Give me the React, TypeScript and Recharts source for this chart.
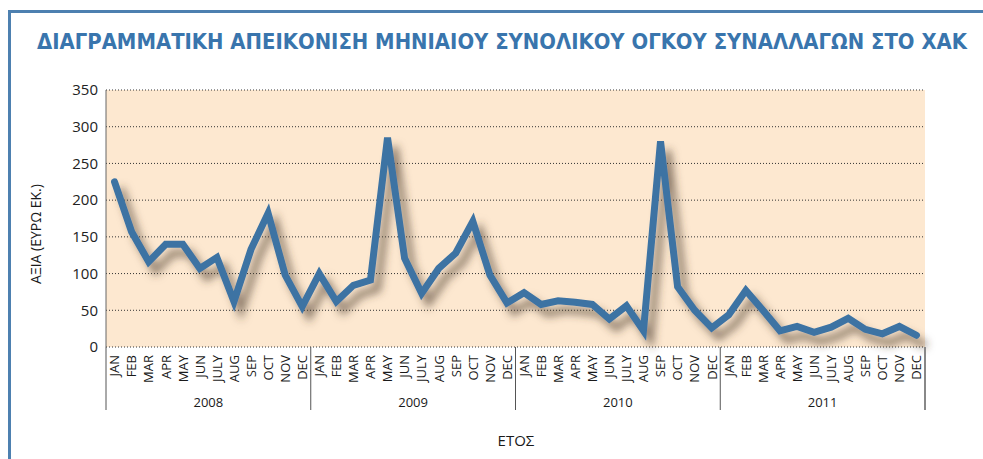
import React from 'react';
import { LineChart, Line, XAxis, YAxis, CartesianGrid } from 'recharts';

// Chart values
const months = ['JAN', 'FEB', 'MAR', 'APR', 'MAY', 'JUN', 'JULY', 'AUG', 'SEP', 'OCT', 'NOV', 'DEC'];
const years = ['2008', '2009', '2010', '2011'];
const values2008 = [225, 157, 116, 140, 140, 107, 122, 62, 133, 182, 98, 55];
const values2009 = [100, 62, 84, 91, 285, 121, 73, 107, 128, 171, 98, 60];
const values2010 = [74, 58, 63, 61, 58, 38, 56, 22, 280, 82, 50, 26];
const values2011 = [44, 77, 50, 22, 28, 20, 27, 39, 24, 18, 28, 16];
const yTicks = [0, 50, 100, 150, 200, 250, 300, 350];

const title = 'ΔΙΑΓΡΑΜΜΑΤΙΚΗ ΑΠΕΙΚΟΝΙΣΗ ΜΗΝΙΑΙΟΥ ΣΥΝΟΛΙΚΟΥ ΟΓΚΟΥ ΣΥΝΑΛΛΑΓΩΝ ΣΤΟ ΧΑΚ';
const yLabel = 'ΑΞΙΑ (ΕΥΡΩ ΕΚ.)';
const xLabel = 'ΕΤΟΣ';

const seriesByYear = [values2008, values2009, values2010, values2011];

const data = years.flatMap((year, yi) =>
  months.map((month, mi) => ({
    key: `${year}-${month}`,
    month,
    year,
    value: seriesByYear[yi][mi],
  }))
);

const FONT = '"Open Sans", "DejaVu Sans", sans-serif';
const TITLE_FONT = '"Liberation Sans Narrow", "DejaVu Sans Condensed", "Open Sans", sans-serif';

// month label + year separators / year label drawn under the axis
const MonthTick = (props: any) => {
  const { x, y, payload, index } = props;
  const half = payload && payload.offset ? payload.offset : 8.53;
  const row = data[index] || { month: '', year: '' };
  const isFirst = index % 12 === 0;
  const isLast = index === data.length - 1;
  return (
    <g>
      <text
        x={x}
        y={y}
        transform={`rotate(-90, ${x}, ${y})`}
        textAnchor="end"
        dy="0.37em"
        fontSize={13}
        fontFamily={FONT}
        fill="#1a1a1a"
      >
        {row.month}
      </text>
      {isFirst && (
        <>
          <line x1={x - half} x2={x - half} y1={y - 8} y2={y + 55} stroke="#555" strokeWidth={1} />
          <text
            x={x - half + half * 12}
            y={y + 52}
            textAnchor="middle"
            fontSize={13}
            fontFamily={FONT}
            fill="#1a1a1a"
          >
            {row.year}
          </text>
        </>
      )}
      {isLast && (
        <line x1={x + half} x2={x + half} y1={y - 8} y2={y + 55} stroke="#888" strokeWidth={2} />
      )}
    </g>
  );
};

export default function App() {
  return (
    <div style={{ position: 'absolute', left: 0, top: 0, width: 983, height: 459, background: '#fff', overflow: 'hidden' }}>
      <style>{`.shadow-line .recharts-line-curve { filter: url(#lineShadow); }`}</style>
      <svg width={0} height={0} style={{ position: 'absolute' }}>
        <defs>
          <filter id="lineShadow" filterUnits="userSpaceOnUse" x={0} y={0} width={983} height={459}>
            <feGaussianBlur in="SourceAlpha" stdDeviation={4.5} result="blur" />
            <feOffset in="blur" dx={7} dy={9} result="off" />
            <feFlood floodColor="#4a3a2c" floodOpacity={0.62} result="col" />
            <feComposite in="col" in2="off" operator="in" result="shadow" />
            <feMerge>
              <feMergeNode in="shadow" />
              <feMergeNode in="SourceGraphic" />
            </feMerge>
          </filter>
        </defs>
      </svg>
      <LineChart width={983} height={459} data={data} margin={{ top: 90, right: 58, bottom: 52, left: 46 }}>
        <CartesianGrid
          vertical={false}
          fill="#fde8d0"
          stroke="#333"
          strokeDasharray="1 2"
          fillOpacity={1}
        />
        <XAxis
          dataKey="key"
          scale="band"
          interval={0}
          tickLine={false}
          axisLine={false}
          height={60}
          tick={<MonthTick />}
        />
        <YAxis
          domain={[0, 350]}
          ticks={yTicks}
          width={60}
          tickLine={false}
          axisLine={{ stroke: '#666', strokeWidth: 1 }}
          tick={{ fontSize: 15, fontFamily: FONT, fill: '#222' }}
        />
        <YAxis
          yAxisId="edge"
          orientation="right"
          domain={[0, 350]}
          width={0}
          tick={false}
          tickLine={false}
          axisLine={{ stroke: '#999', strokeWidth: 2 }}
        />
        <Line
          className="shadow-line"
          type="linear"
          dataKey="value"
          stroke="#3d73a3"
          strokeWidth={7}
          strokeLinecap="round"
          dot={false}
          activeDot={false}
          isAnimationActive={false}
        />
      </LineChart>
      <svg width={983} height={459} style={{ position: 'absolute', left: 0, top: 0, pointerEvents: 'none' }}>
        <path d="M 9.5 459 V 11.5 H 983" fill="none" stroke="#4d80b0" strokeWidth={3} />
        <text
          x={37}
          y={49}
          textLength={930}
          lengthAdjust="spacingAndGlyphs"
          fontSize={22}
          fontWeight="bold"
          fontFamily={TITLE_FONT}
          fill="#3975ad"
        >
          {title}
        </text>
        <text
          x={35}
          y={234}
          transform="rotate(-90, 35, 234)"
          textAnchor="middle"
          dominantBaseline="central"
          fontSize={14}
          fontFamily={FONT}
          fill="#1a1a1a"
        >
          {yLabel}
        </text>
        <text x={516} y={446} textAnchor="middle" fontSize={15} fontFamily={FONT} fill="#1a1a1a">
          {xLabel}
        </text>
      </svg>
    </div>
  );
}
